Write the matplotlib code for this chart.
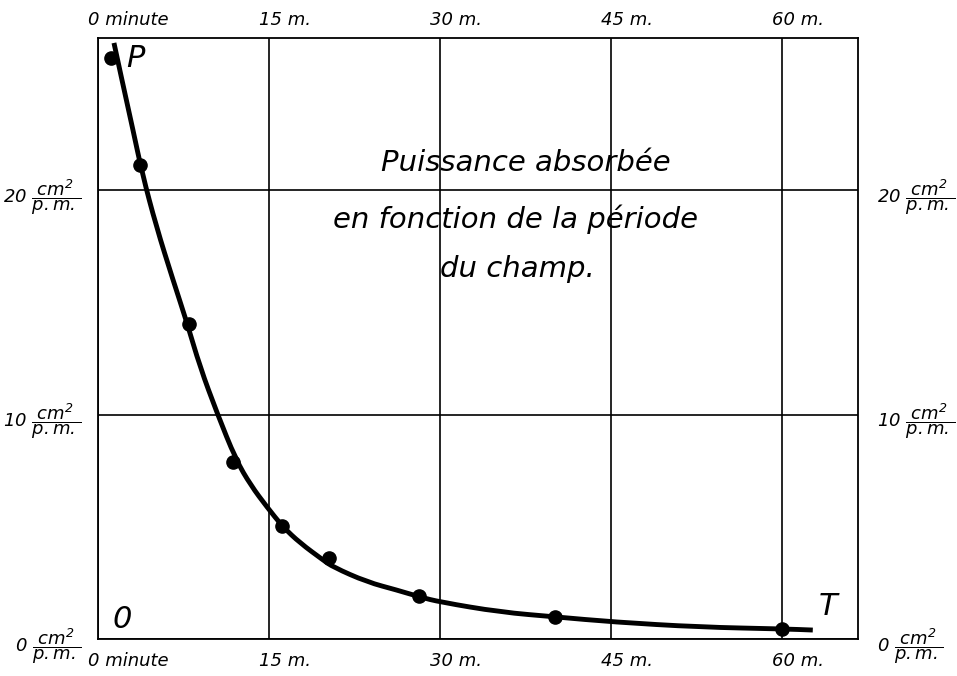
# plot.py — absorbed power vs field period (old scanned chart recreation)
import matplotlib
matplotlib.use('Agg')
import matplotlib.pyplot as plt
from matplotlib.path import Path
from matplotlib.patches import PathPatch
from matplotlib.transforms import ScaledTranslation

plt.rcParams['font.family'] = ['DejaVu Sans']
plt.rcParams['mathtext.fontset'] = 'custom'
plt.rcParams['mathtext.rm'] = 'DejaVu Sans:italic'
plt.rcParams['mathtext.it'] = 'DejaVu Sans:italic'

# measured points (period in minutes, power in cm2 / p.m.)
period_pts = [1.1, 3.7, 8.0, 11.8, 16.1, 20.3, 28.2, 40.1, 60.0]
power_pts = [25.9, 21.1, 14.05, 7.9, 5.05, 3.6, 1.92, 0.97, 0.45]

# hand-drawn curve
period_curve = [1.4, 2.1, 3.07, 3.9, 5.1, 6.58, 7.81, 8.95, 10.44, 12.11,
                13.4, 14.82, 16.23, 17.72, 19.74, 20.61, 23.6, 26.23, 28.25, 30.0,
                35.26, 40.26, 45.18, 52.8, 60.1, 62.7]
power_curve = [26.55, 24.9, 22.67, 20.7, 18.4, 15.99, 14.08, 12.12, 10.07, 7.97,
               6.85, 5.88, 4.99, 4.28, 3.52, 3.21, 2.54, 2.18, 1.87, 1.65,
               1.2, 0.98, 0.76, 0.53, 0.45, 0.4]

x_ticks = [0, 15, 30, 45, 60]
x_labels = ['0 minute', '15 m.', '30 m.', '45 m.', '60 m.']
y_ticks = [0, 10, 20]
y_labels = [r'$0\ \dfrac{cm^{2}}{p.m.}$', r'$10\ \dfrac{cm^{2}}{p.m.}$',
            r'$20\ \dfrac{cm^{2}}{p.m.}$']

fig = plt.figure(figsize=(9.57, 6.76), dpi=100)
ax = fig.add_axes([0.1024, 0.0547, 0.7942, 0.8891])
ax.set_xlim(0, 66.67)
ax.set_ylim(0, 26.77)

# smooth curve: quadratic bezier pieces through the midpoints of the read points
pts = list(zip(period_curve, power_curve))
verts = [pts[0]]
codes = [Path.MOVETO]
for i in range(1, len(pts) - 1):
    mid = ((pts[i][0] + pts[i + 1][0]) / 2, (pts[i][1] + pts[i + 1][1]) / 2)
    verts += [pts[i], mid]
    codes += [Path.CURVE3, Path.CURVE3]
verts.append(pts[-1])
codes.append(Path.LINETO)
ax.add_patch(PathPatch(Path(verts, codes), fill=False, edgecolor='black',
                       lw=3.5, capstyle='butt', zorder=3))
ax.plot(period_pts, power_pts, 'o', color='black', ms=9.5, zorder=4)

for s in ax.spines.values():
    s.set_linewidth(1.3)
ax.grid(True, color='black', lw=1.2)
ax.set_axisbelow(True)

ax.set_xticks(x_ticks)
ax.set_yticks(y_ticks)
ax.tick_params(length=0, top=True, labeltop=True, right=True, labelright=True)
ax.set_xticklabels(x_labels, fontsize=13, style='italic', ha='left')
ax.set_yticklabels(y_labels, fontsize=13)
ax.tick_params(axis='x', which='major', pad=9)
ax.tick_params(axis='y', pad=12)

for t in ax.yaxis.get_major_ticks():
    t.label2.set_transform(t.label2.get_transform() +
                           ScaledTranslation(2 / 100, 0, fig.dpi_scale_trans))
    t.label2.set_fontsize(13)
for t in ax.xaxis.get_major_ticks():
    off = ScaledTranslation(-10 / 100, 0, fig.dpi_scale_trans)
    t.label1.set_transform(t.label1.get_transform() + off)
    t.label2.set_transform(t.label2.get_transform() + off +
                           ScaledTranslation(0, -4 / 100, fig.dpi_scale_trans))
    t.label2.set_fontsize(13)
    t.label2.set_style('italic')
    t.label2.set_ha('left')

# caption inside the grid
ax.text(37.5, 21.2, 'Puissance absorbée', fontsize=21, style='italic', ha='center', va='center')
ax.text(36.6, 18.7, 'en fonction de la période', fontsize=21, style='italic', ha='center', va='center')
ax.text(36.8, 16.5, 'du champ.', fontsize=21, style='italic', ha='center', va='center')

# corner letters
ax.text(2.5, 25.85, 'P', fontsize=22, style='italic', va='center')
ax.text(1.3, 0.85, '0', fontsize=22, style='italic', va='center')
ax.text(63.2, 1.45, 'T', fontsize=22, style='italic', va='center')

plt.savefig('out.png', dpi=100)
plt.close()
